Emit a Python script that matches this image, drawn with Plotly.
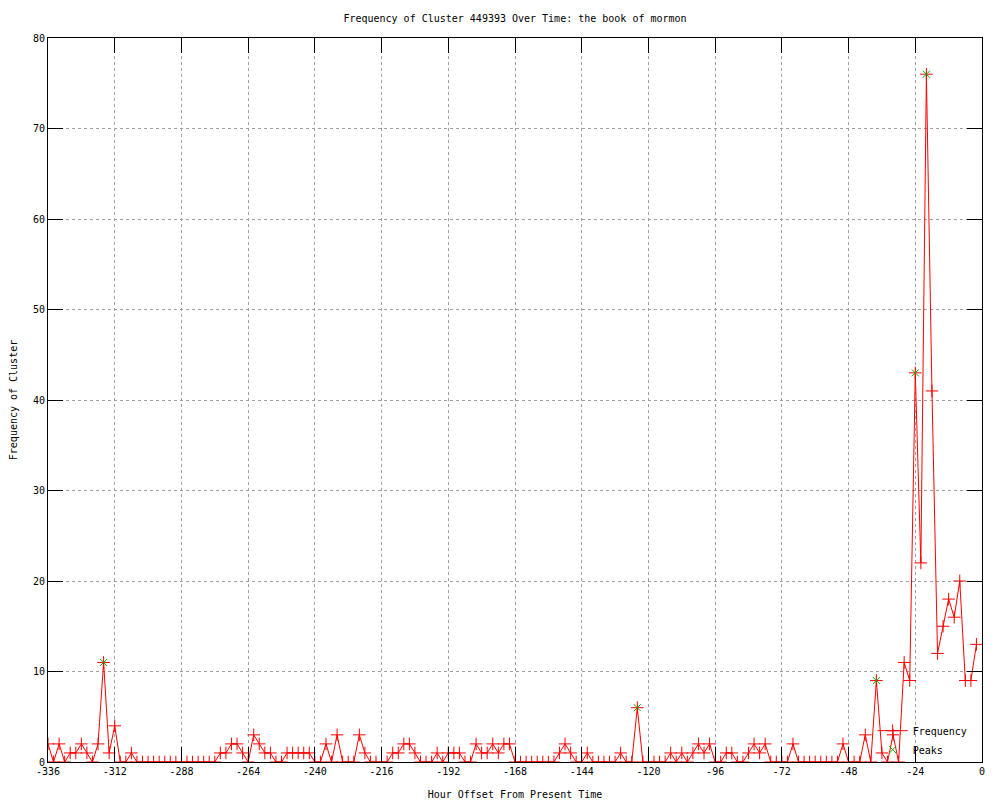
import plotly.graph_objects as go

# Hourly offsets (every 2 hours) and observed frequency
hours = list(range(-336, 0, 2))
frequency = [
    2, 0, 2, 0, 1, 1, 2, 1, 0, 2,
    11, 1, 4, 0, 0, 1, 0, 0, 0, 0,
    0, 0, 0, 0, 0, 0, 0, 0, 0, 0,
    0, 1, 1, 2, 2, 1, 0, 3, 2, 1,
    1, 0, 0, 1, 1, 1, 1, 1, 0, 0,
    2, 0, 3, 0, 0, 0, 3, 1, 0, 0,
    0, 0, 1, 1, 2, 2, 1, 0, 0, 0,
    1, 0, 1, 1, 1, 0, 0, 2, 1, 1,
    2, 1, 2, 2, 0, 0, 0, 0, 0, 0,
    0, 0, 1, 2, 1, 0, 0, 1, 0, 0,
    0, 0, 0, 1, 0, 0, 6, 0, 0, 0,
    0, 0, 1, 0, 1, 0, 1, 2, 1, 2,
    0, 0, 1, 1, 0, 0, 1, 2, 1, 2,
    0, 0, 0, 0, 2, 0, 0, 0, 0, 0,
    0, 0, 0, 2, 0, 0, 0, 3, 0, 9,
    1, 0, 3, 0, 11, 9, 43, 22, 76, 41,
    12, 15, 18, 16, 20, 9, 9, 13,
]

peak_hours = [-316, -124, -38, -24, -20]
peak_values = [11, 6, 9, 43, 76]

x_ticks = [-336, -312, -288, -264, -240, -216, -192, -168, -144, -120, -96, -72, -48, -24, 0]
y_ticks = [0, 10, 20, 30, 40, 50, 60, 70, 80]

FONT = "DejaVu Sans Mono"

fig = go.Figure()
fig.add_trace(go.Scatter(
    x=hours, y=frequency, mode="lines+markers", name="Frequency",
    line=dict(color="#ff0000", width=1),
    marker=dict(symbol="cross-thin-open", size=9, color="#ff0000",
                line=dict(color="#ff0000", width=1)),
))
fig.add_trace(go.Scatter(
    x=peak_hours, y=peak_values, mode="markers", name="Peaks",
    marker=dict(symbol="x-thin-open", size=7, color="#00b000",
                line=dict(color="#00b000", width=1)),
))

axis_common = dict(
    showline=True, linecolor="black", linewidth=1, mirror="allticks",
    ticks="inside", ticklen=15, tickcolor="black", tickwidth=1,
    showgrid=True, gridcolor="#a0a0a0", griddash="dot", gridwidth=1,
    zeroline=False, automargin=False,
    tickfont=dict(family=FONT, size=10, color="black"),
)

fig.update_layout(
    width=1000, height=800,
    paper_bgcolor="white", plot_bgcolor="white",
    margin=dict(l=40, r=26, t=30, b=46),
    title=dict(text="Frequency of Cluster 449393 Over Time: the book of mormon",
               xref="paper", x=0.5, xanchor="center", y=0.9875, yanchor="middle",
               font=dict(family=FONT, size=10, color="black")),
    xaxis=dict(range=[-336, 0], tickvals=x_ticks, ticktext=[str(v) for v in x_ticks],
               title=dict(text="Hour Offset From Present Time", standoff=14,
                          font=dict(family=FONT, size=10, color="black")),
               **axis_common),
    yaxis=dict(range=[0, 80], tickvals=y_ticks, ticktext=[str(v) for v in y_ticks],
               title=dict(text="Frequency of Cluster", standoff=26,
                          font=dict(family=FONT, size=10, color="black")),
               **axis_common),
    legend=dict(x=0.99, y=-0.003, xanchor="right", yanchor="bottom",
                bgcolor="rgba(0,0,0,0)", borderwidth=0,
                font=dict(family=FONT, size=10, color="black"),
                tracegroupgap=0),
    showlegend=True,
)

fig.write_html("out.html")
